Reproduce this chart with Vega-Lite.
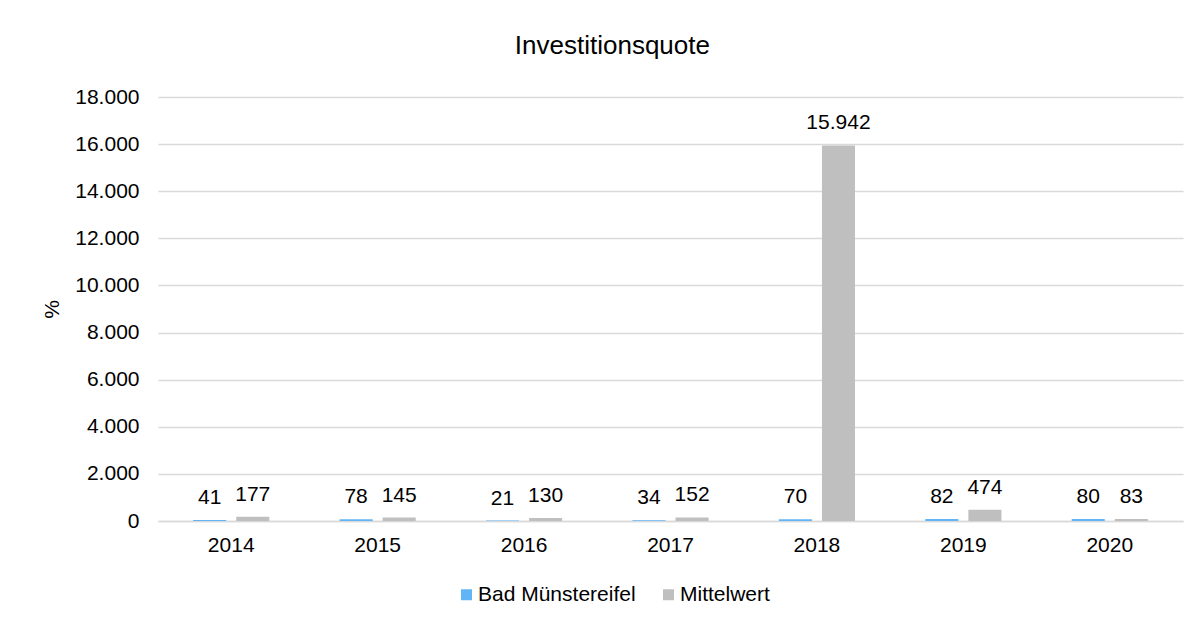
{
  "$schema": "https://vega.github.io/schema/vega-lite/v6.json",
  "autosize": "none",
  "width": 1025,
  "height": 424,
  "padding": {"left": 158, "top": 97, "right": 17, "bottom": 102},
  "background": "white",
  "title": {"text": "Investitionsquote", "fontSize": 26, "font": "Liberation Sans", "fontWeight": "normal", "color": "#000000", "offset": 27, "anchor": "middle", "frame": "bounds"},
  "data": {"values": [
    {"Jahr": "2014", "Reihe": "Bad Münstereifel", "Wert": 41},
    {"Jahr": "2014", "Reihe": "Mittelwert", "Wert": 177},
    {"Jahr": "2015", "Reihe": "Bad Münstereifel", "Wert": 78},
    {"Jahr": "2015", "Reihe": "Mittelwert", "Wert": 145},
    {"Jahr": "2016", "Reihe": "Bad Münstereifel", "Wert": 21},
    {"Jahr": "2016", "Reihe": "Mittelwert", "Wert": 130},
    {"Jahr": "2017", "Reihe": "Bad Münstereifel", "Wert": 34},
    {"Jahr": "2017", "Reihe": "Mittelwert", "Wert": 152},
    {"Jahr": "2018", "Reihe": "Bad Münstereifel", "Wert": 70},
    {"Jahr": "2018", "Reihe": "Mittelwert", "Wert": 15942},
    {"Jahr": "2019", "Reihe": "Bad Münstereifel", "Wert": 82},
    {"Jahr": "2019", "Reihe": "Mittelwert", "Wert": 474},
    {"Jahr": "2020", "Reihe": "Bad Münstereifel", "Wert": 80},
    {"Jahr": "2020", "Reihe": "Mittelwert", "Wert": 83}
  ]},
  "encoding": {
    "x": {"field": "Jahr", "type": "nominal", "title": null,
      "scale": {"paddingInner": 0.48, "paddingOuter": 0.24},
      "axis": {"labelAngle": 0, "labelFontSize": 21, "labelFont": "Liberation Sans", "labelColor": "#000000", "ticks": false, "labelPadding": 13, "domainColor": "#D9D9D9", "domainWidth": 1.5}},
    "xOffset": {"field": "Reihe", "type": "nominal", "scale": {"paddingInner": 0.233, "paddingOuter": 0}},
    "y": {"field": "Wert", "type": "quantitative", "title": "%",
      "scale": {"domain": [0, 18000]},
      "axis": {"values": [0, 2000, 4000, 6000, 8000, 10000, 12000, 14000, 16000, 18000], "format": ",d", "labelFontSize": 21, "labelFont": "Liberation Sans", "labelColor": "#000000", "ticks": false, "labelPadding": 19, "domain": false, "gridColor": "#D9D9D9", "gridWidth": 1.3, "titleFontSize": 21, "titleFont": "Liberation Sans", "titleFontWeight": "normal", "titleColor": "#000000", "titlePadding": 12}}
  },
  "layer": [
    {"mark": {"type": "bar"},
      "encoding": {"color": {"field": "Reihe", "type": "nominal", "title": null,
        "scale": {"domain": ["Bad Münstereifel", "Mittelwert"], "range": ["#61B4F6", "#BFBFBF"]},
        "legend": {"orient": "none", "legendX": 298, "legendY": 487, "direction": "horizontal", "symbolType": "square", "symbolSize": 121, "symbolStrokeWidth": 0, "labelFontSize": 21, "labelFont": "Liberation Sans", "labelColor": "#000000", "labelOffset": 1, "columnPadding": 22}}}},
    {"mark": {"type": "text", "baseline": "alphabetic", "dy": -16, "fontSize": 21, "font": "Liberation Sans", "color": "#000000"},
      "encoding": {"text": {"field": "Wert", "type": "quantitative", "format": ",d"}}}
  ],
  "config": {
    "locale": {"number": {"decimal": ",", "thousands": ".", "grouping": [3], "currency": ["", " €"]}},
    "view": {"stroke": null}
  }
}
